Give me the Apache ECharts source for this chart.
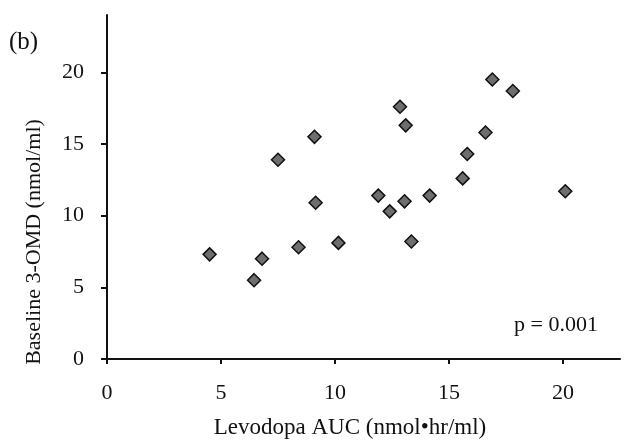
<!DOCTYPE html>
<html>
<head>
<meta charset="utf-8">
<script src="https://cdn.jsdelivr.net/npm/echarts@6/dist/echarts.min.js"></script>
<style>html,body{margin:0;padding:0;background:#fff}#c{width:629px;height:446px}</style>
</head>
<body>
<div id="c"></div>
<script>
const levodopaAUC = [4.5, 6.45, 6.8, 7.5, 8.4, 9.1, 9.15, 10.15, 11.9, 12.4, 12.85, 13.1, 13.05, 13.35, 14.15, 15.6, 15.8, 16.6, 16.9, 17.8, 20.1];
const omd3 = [7.3, 5.5, 7.0, 13.9, 7.8, 15.5, 10.9, 8.1, 11.4, 10.3, 17.6, 16.3, 11.0, 8.2, 11.4, 12.6, 14.3, 15.8, 19.5, 18.7, 11.7];
const xTicks = [0, 5, 10, 15, 20];
const yTicks = [0, 5, 10, 15, 20];
const xName = 'Levodopa AUC (nmol\u2022hr/ml)';
const yName = 'Baseline 3-OMD (nmol/ml)';
const panelLabel = '(b)';
const pText = 'p = 0.001';

const FONT = '"Liberation Serif", "Times New Roman", serif';
const data = levodopaAUC.map((x, i) => [x, omd3[i]]);
const chart = echarts.init(document.getElementById('c'), null, {renderer: 'canvas'});
chart.setOption({
  animation: false,
  backgroundColor: '#fff',
  grid: {left: 107, right: 9, top: 15, bottom: 87},
  xAxis: {
    type: 'value', min: 0, max: 22.5,
    splitLine: {show: false},
    axisLine: {show: true, lineStyle: {color: '#111', width: 2}},
    axisTick: {show: true, length: 5, lineStyle: {color: '#111', width: 2}, customValues: xTicks},
    axisLabel: {customValues: xTicks, color: '#111', fontFamily: FONT, fontSize: 22, margin: 23}
  },
  yAxis: {
    type: 'value', min: 0, max: 24,
    splitLine: {show: false},
    axisLine: {show: true, lineStyle: {color: '#111', width: 2}},
    axisTick: {show: true, length: 6, lineStyle: {color: '#111', width: 2}, customValues: yTicks},
    axisLabel: {customValues: yTicks, color: '#111', fontFamily: FONT, fontSize: 22, margin: 23}
  },
  series: [{
    type: 'scatter',
    data: data,
    symbol: 'diamond',
    symbolSize: 13,
    itemStyle: {color: '#6e6e6e', borderColor: '#111', borderWidth: 1.5, opacity: 1}
  }],
  graphic: [
    {type: 'text', left: 9, top: 30, style: {text: panelLabel, font: '25px ' + FONT, fill: '#111'}},
    {type: 'text', x: 350, y: 428, style: {text: xName, font: '23px ' + FONT, fill: '#111', align: 'center', verticalAlign: 'middle'}},
    {type: 'text', x: 34, y: 242, rotation: Math.PI / 2, style: {text: yName, font: '22px ' + FONT, fill: '#111', align: 'center', verticalAlign: 'middle'}},
    {type: 'text', x: 598, y: 325, style: {text: pText, font: '22px ' + FONT, fill: '#111', align: 'right', verticalAlign: 'middle'}}
  ]
});
</script>
</body>
</html>
